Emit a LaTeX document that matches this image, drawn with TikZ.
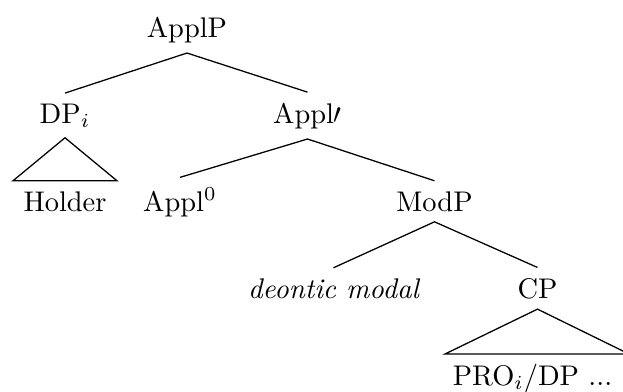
\documentclass[tikz,border=0pt]{standalone}
\begin{document}
\begin{tikzpicture}[x=0.352pt,y=-0.352pt,
  lbl/.style={anchor=base,inner sep=3.5pt},
  branch/.style={draw=black,line width=0.45pt},
  roof/.style={draw=black,line width=0.45pt,line join=miter}]
\useasboundingbox (0,0) rectangle (623,392);

% labels of the tree, placed on their baselines
\node[lbl] (applp)   at (187,37)    {ApplP};
\node[lbl] (dp)      at (65,123)    {DP$_i$};
\node[lbl] (applbar) at (307.5,123) {Appl$\prime$};
\node[lbl] (holder)  at (65,211)    {Holder};
\node[lbl] (appl0)   at (180,211)   {Appl$^0$};
\node[lbl] (modp)    at (434.5,211) {ModP};
\node[lbl] (deontic) at (333.5,298) {\itshape deontic modal};
\node[lbl] (cp)      at (537.5,298) {CP};
\node[lbl] (pro)     at (532.5,385) {PRO$_i$/DP ...};

% corners of the roof over the CP complement
\coordinate (roofL) at (445,354);
\coordinate (roofR) at (629,354);

% branches
\draw[branch] (dp.north) -- (applp.south) -- (applbar.north);
\draw[branch] (appl0.north) -- (applbar.south) -- (modp.north);
\draw[branch] (deontic.north) -- (modp.south) -- (cp.north);

% roofs
\draw[roof] (dp.south) -- (holder.north west) -- (holder.north east) -- cycle;
\draw[roof] (cp.south) -- (roofL) -- (roofR) -- cycle;
\end{tikzpicture}
\end{document}
